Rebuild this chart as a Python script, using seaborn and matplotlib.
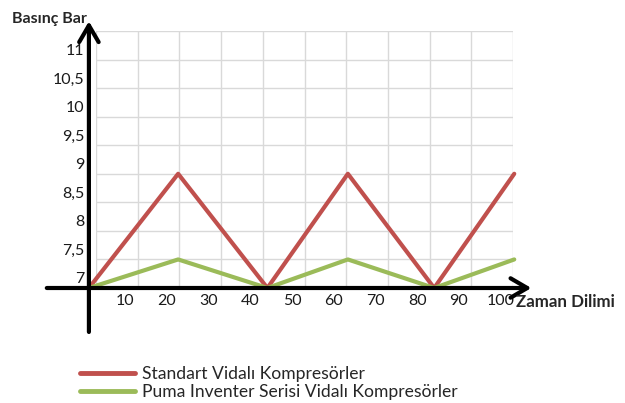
import numpy as np
import pandas as pd
import matplotlib.pyplot as plt
import matplotlib.transforms as mtransforms
import seaborn as sns

# values (x in the frame of the 10..100 tick labels)
zaman = [1.3, 22.7, 44.1, 63.4, 84.1, 103.3]
standart = [7, 9, 7, 9, 7, 9]
puma = [7, 7.5, 7, 7.5, 7, 7.5]
seriler = ['Standart Vidalı Kompresörler', 'Puma Inventer Serisi Vidalı Kompresörler']
renkler = ['#c0504d', '#9bbb59']

x_ticks = [10, 20, 30, 40, 50, 60, 70, 80, 90, 100]
y_ticks = [7, 7.5, 8, 8.5, 9, 9.5, 10, 10.5, 11]
y_labels = ['7', '7,5', '8', '8,5', '9', '9,5', '10', '10,5', '11']

df = pd.DataFrame({
    'zaman': zaman * 2,
    'basinc': standart + puma,
    'seri': [seriler[0]] * len(zaman) + [seriler[1]] * len(zaman),
})

sns.set_theme(style='white')
plt.rcParams['font.family'] = ['Lato', 'DejaVu Sans']

fig = plt.figure(figsize=(6.25, 4.03), dpi=100)
ax = fig.add_axes([96 / 625, 1 - 288 / 403, 417 / 625, 257 / 403])

sns.lineplot(data=df, x='zaman', y='basinc', hue='seri', palette=renkler,
             lw=3, ax=ax, clip_on=False)

ax.set_xlim(3, 103)
ax.set_ylim(7, 11.5)

# grid: vertical lines sit between the labels in the original picture
ax.set_xticks(x_ticks)
ax.set_xticks(np.arange(3, 104, 10), minor=True)
ax.set_yticks(y_ticks)
ax.set_yticklabels(y_labels)
ax.set_yticks([11.5], minor=True)
ax.grid(False)
ax.grid(True, which='minor', axis='x', color='#d9d9d9', lw=1)
ax.grid(True, which='both', axis='y', color='#d9d9d9', lw=1)
ax.tick_params(axis='both', which='both', length=0, labelsize=11.5, colors='#1a1a1a')
ax.tick_params(axis='x', pad=4)
ax.tick_params(axis='y', pad=8.5)
for lab in ax.get_yticklabels():
    lab.set_transform(lab.get_transform() + mtransforms.ScaledTranslation(0, 0.10, fig.dpi_scale_trans))
for s in ax.spines.values():
    s.set_visible(False)
ax.set_xlabel('')
ax.set_ylabel('')

# hand drawn style axes with arrows
arrow = dict(arrowstyle='->,head_length=0.6,head_width=0.35', lw=3, color='black',
             mutation_scale=20, shrinkA=0, shrinkB=0)
ax.annotate('', xy=(107.4, 7), xytext=(-8.8, 7), arrowprops=arrow, annotation_clip=False)
ax.annotate('', xy=(1.3, 11.67), xytext=(1.3, 6.23), arrowprops=arrow, annotation_clip=False)

fig.text(12 / 625, 1 - 19 / 403, 'Basınç Bar', fontsize=11.5, fontweight='bold', va='center', ha='left')
fig.text(516 / 625, 1 - 302 / 403, 'Zaman Dilimi', fontsize=12.2, fontweight='bold', va='center', ha='left')

leg = ax.legend(loc='upper left', bbox_to_anchor=(80 / 625, 1 - 366 / 403),
                bbox_transform=fig.transFigure, frameon=False, fontsize=12.6,
                handlelength=3.15, handletextpad=0.4, labelspacing=0.12,
                borderpad=0, borderaxespad=0)
for line in leg.get_lines():
    line.set_linewidth(3.5)

plt.savefig('out.png', dpi=100)
